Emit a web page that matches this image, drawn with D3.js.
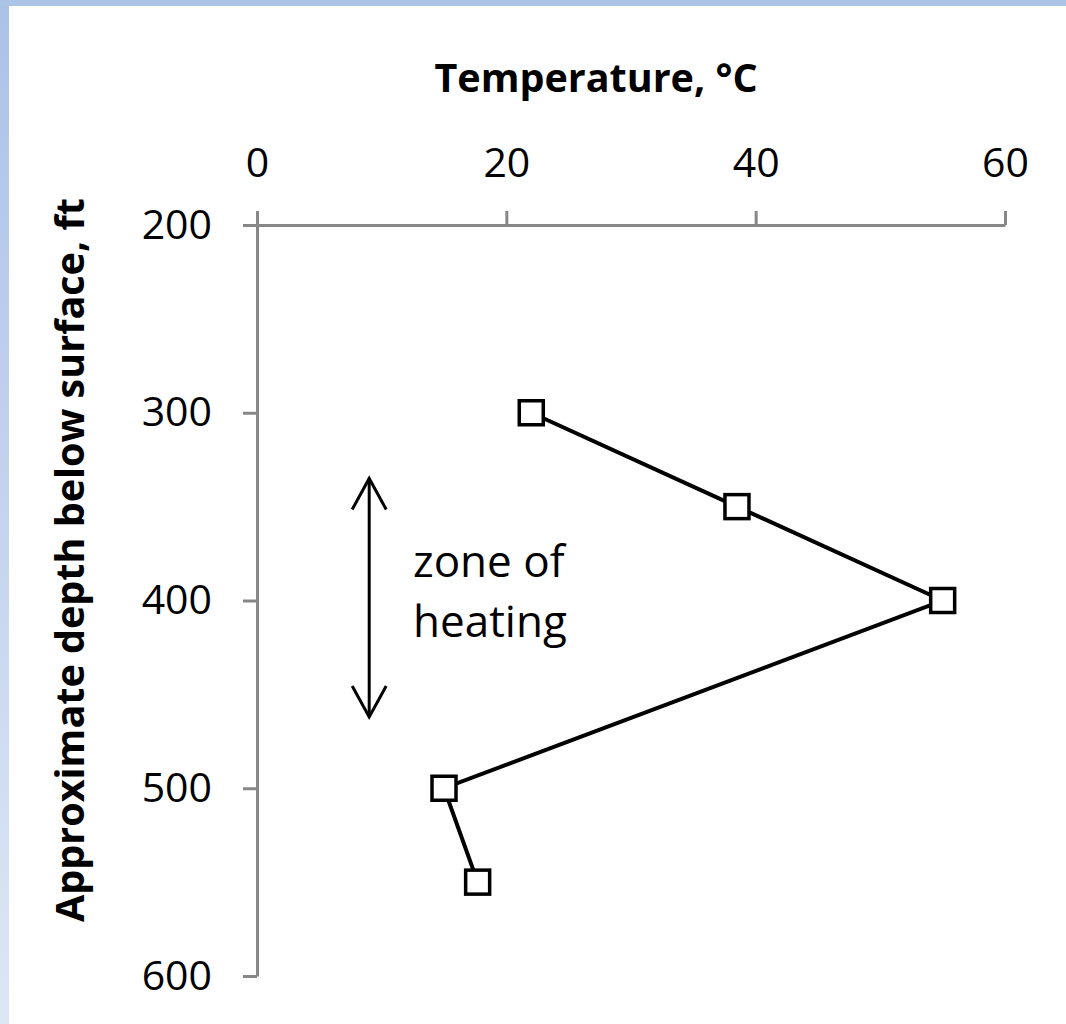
<!DOCTYPE html>
<html>
<head>
<meta charset="utf-8">
<script src="https://cdn.jsdelivr.net/npm/d3@7"></script>
<style>
  body { margin: 0; background: #fff; }
  text { font-family: "Open Sans", sans-serif; fill: #000; }
</style>
</head>
<body>
<div id="main-vis"></div>
<script>
// temperature profile with depth
var temps = [22, 38.5, 55, 15, 17.7];
var depths = [300, 350, 400, 500, 550];
var xTicks = [0, 20, 40, 60];
var yTicks = [200, 300, 400, 500, 600];
// annotation: double arrow over the heated zone
var zoneTemp = 9;
var zoneDepths = [335, 462];
var zoneLabel = ["zone of", "heating"];

var W = 1066, H = 1024;

var x = d3.scaleLinear().domain([0, 60]).range([257, 1005]);
var y = d3.scaleLinear().domain([200, 600]).range([225, 976]);

var svg = d3.select("#main-vis").append("svg")
     .attr("width", W)
     .attr("height", H);

// blue frame on the top and left edges
var defs = svg.append("defs");
var grad = defs.append("linearGradient")
     .attr("id", "edge")
     .attr("x1", 0).attr("y1", 0).attr("x2", 0).attr("y2", 1);
grad.append("stop").attr("offset", "0%").attr("stop-color", "#abc2e8");
grad.append("stop").attr("offset", "100%").attr("stop-color", "#dde6f5");

svg.append("rect").attr("x", 0).attr("y", 0).attr("width", 9).attr("height", H).attr("fill", "url(#edge)");
svg.append("rect").attr("x", 0).attr("y", 0).attr("width", W).attr("height", 6).attr("fill", "#adc4e9");

// axes
var xAxis = svg.append("g")
     .attr("transform", "translate(0," + y(200) + ")")
     .call(d3.axisTop(x).tickValues(xTicks).tickSize(14).tickSizeOuter(0).tickPadding(34));
var yAxis = svg.append("g")
     .attr("transform", "translate(" + x(0) + ",0)")
     .call(d3.axisLeft(y).tickValues(yTicks).tickSize(14).tickSizeOuter(0).tickPadding(31));

[xAxis, yAxis].forEach(function (g) {
     g.selectAll("path, line").attr("stroke", "#878787").attr("stroke-width", 3);
     g.selectAll("text")
          .style("font-family", "'Open Sans', sans-serif")
          .attr("font-size", 41)
          .attr("fill", "#000");
});

// titles
svg.append("text")
     .attr("x", 596)
     .attr("y", 92)
     .attr("text-anchor", "middle")
     .attr("font-size", 39.5)
     .attr("font-weight", "bold")
     .text("Temperature, \u00B0C");

svg.append("text")
     .attr("transform", "translate(84,560) rotate(-90)")
     .attr("text-anchor", "middle")
     .attr("font-size", 39.5)
     .attr("font-weight", "bold")
     .text("Approximate depth below surface, ft");

// series line
var valueline = d3.line()
     .x(function (d, i) { return x(temps[i]); })
     .y(function (d) { return y(d); });

svg.append("path")
     .datum(depths)
     .attr("d", valueline)
     .attr("fill", "none")
     .attr("stroke", "#000")
     .attr("stroke-width", 4);

// square markers
var s = 24;
svg.selectAll("rect.pt")
     .data(depths)
     .enter().append("rect")
     .attr("class", "pt")
     .attr("x", function (d, i) { return x(temps[i]) - s / 2; })
     .attr("y", function (d) { return y(d) - s / 2; })
     .attr("width", s)
     .attr("height", s)
     .attr("fill", "#fff")
     .attr("stroke", "#000")
     .attr("stroke-width", 3.5);

// double headed arrow
var ax = x(zoneTemp), ay0 = y(zoneDepths[0]), ay1 = y(zoneDepths[1]);
var arrow = svg.append("g")
     .attr("fill", "none")
     .attr("stroke", "#000")
     .attr("stroke-width", 3);
arrow.append("line").attr("x1", ax).attr("x2", ax).attr("y1", ay0).attr("y2", ay1);
arrow.append("path").attr("d", "M" + (ax - 17) + "," + (ay0 + 31) + "L" + ax + "," + ay0 + "L" + (ax + 17) + "," + (ay0 + 31));
arrow.append("path").attr("d", "M" + (ax - 17) + "," + (ay1 - 31) + "L" + ax + "," + ay1 + "L" + (ax + 17) + "," + (ay1 - 31));

svg.selectAll("text.note")
     .data(zoneLabel)
     .enter().append("text")
     .attr("class", "note")
     .attr("x", 413)
     .attr("y", function (d, i) { return 577 + i * 60; })
     .attr("font-size", 44)
     .text(function (d) { return d; });
</script>
</body>
</html>
